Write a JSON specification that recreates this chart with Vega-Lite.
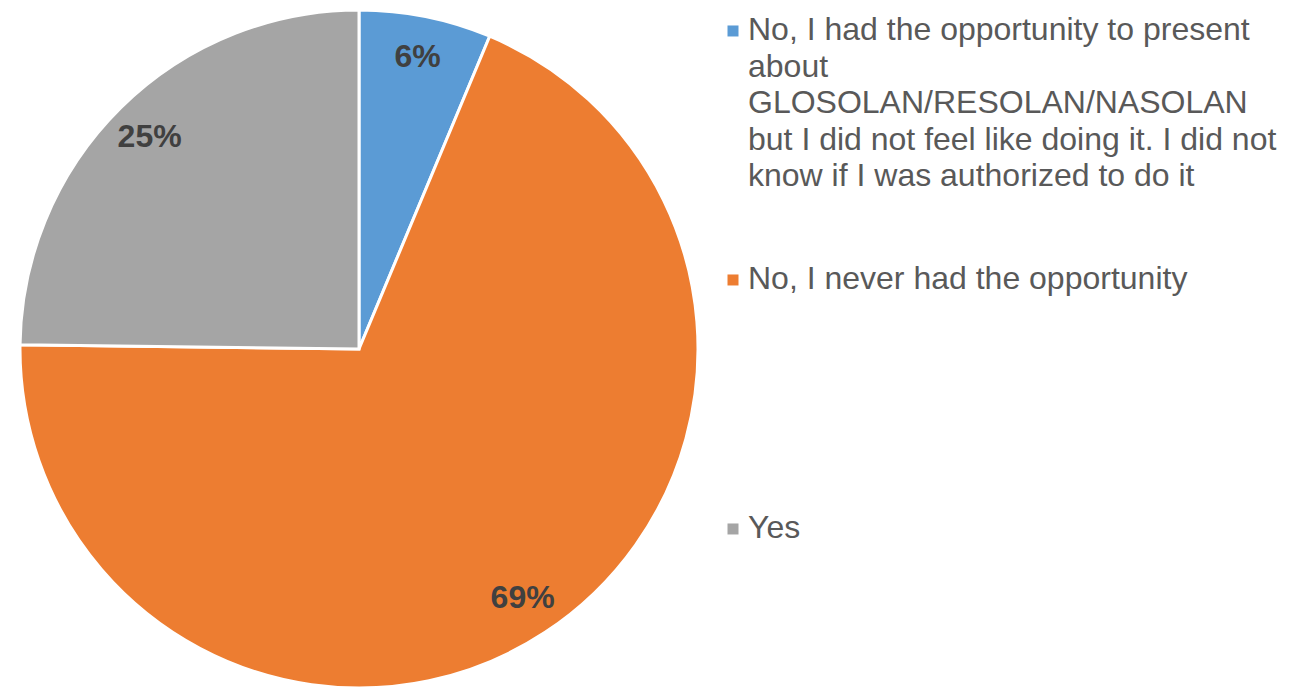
{
  "$schema": "https://vega.github.io/schema/vega-lite/v6.json",
  "width": 718,
  "height": 698,
  "padding": 0,
  "background": "white",
  "config": {
    "view": {"stroke": null},
    "font": "Liberation Sans",
    "style": {"guide-label": {"lineHeight": 36.5}}
  },
  "data": {
    "values": [
      {"response": "No, I had the opportunity to present\nabout\nGLOSOLAN/RESOLAN/NASOLAN\nbut I did not feel like doing it. I did not\nknow if I was authorized to do it", "share": 0.063},
      {"response": "No, I never had the opportunity", "share": 0.689},
      {"response": "Yes", "share": 0.248}
    ]
  },
  "encoding": {
    "theta": {"field": "share", "type": "quantitative", "stack": true},
    "order": {"field": "response", "type": "nominal", "sort": "ascending"}
  },
  "layer": [
    {
      "mark": {"type": "arc", "outerRadius": 339, "stroke": "white", "strokeWidth": 3},
      "encoding": {
        "color": {
          "field": "response",
          "type": "nominal",
          "scale": {
            "domain": [
              "No, I had the opportunity to present\nabout\nGLOSOLAN/RESOLAN/NASOLAN\nbut I did not feel like doing it. I did not\nknow if I was authorized to do it",
              "No, I never had the opportunity",
              "Yes"
            ],
            "range": ["#5B9BD5", "#ED7D31", "#A5A5A5"]
          },
          "legend": {
            "title": null,
            "orient": "none",
            "legendX": 717,
            "legendY": 24,
            "symbolType": "M-1,-2.64L1,-2.64L1,-0.64L-1,-0.64Z",
            "symbolSize": 121,
            "symbolStrokeWidth": 0,
            "labelFont": "Liberation Sans",
            "labelFontSize": 32,
            "labelColor": "#595959",
            "labelLimit": 700,
            "labelOffset": -1,
            "labelBaseline": "alphabetic",
            "labelExpr": "split(datum.label, '\\n')",
            "gridAlign": "all",
            "rowPadding": 71,
            "encode": {"labels": {"enter": {"lineHeight": {"value": 36.5}}, "update": {"lineHeight": {"value": 36.5}}}}
          }
        }
      }
    },
    {
      "mark": {"type": "text", "radius": 298, "font": "Liberation Sans", "fontSize": 32, "fontWeight": "bold", "fill": "#404040"},
      "encoding": {
        "detail": {"field": "response", "type": "nominal"},
        "text": {"field": "share", "type": "quantitative", "format": ".0%"}
      }
    }
  ]
}
